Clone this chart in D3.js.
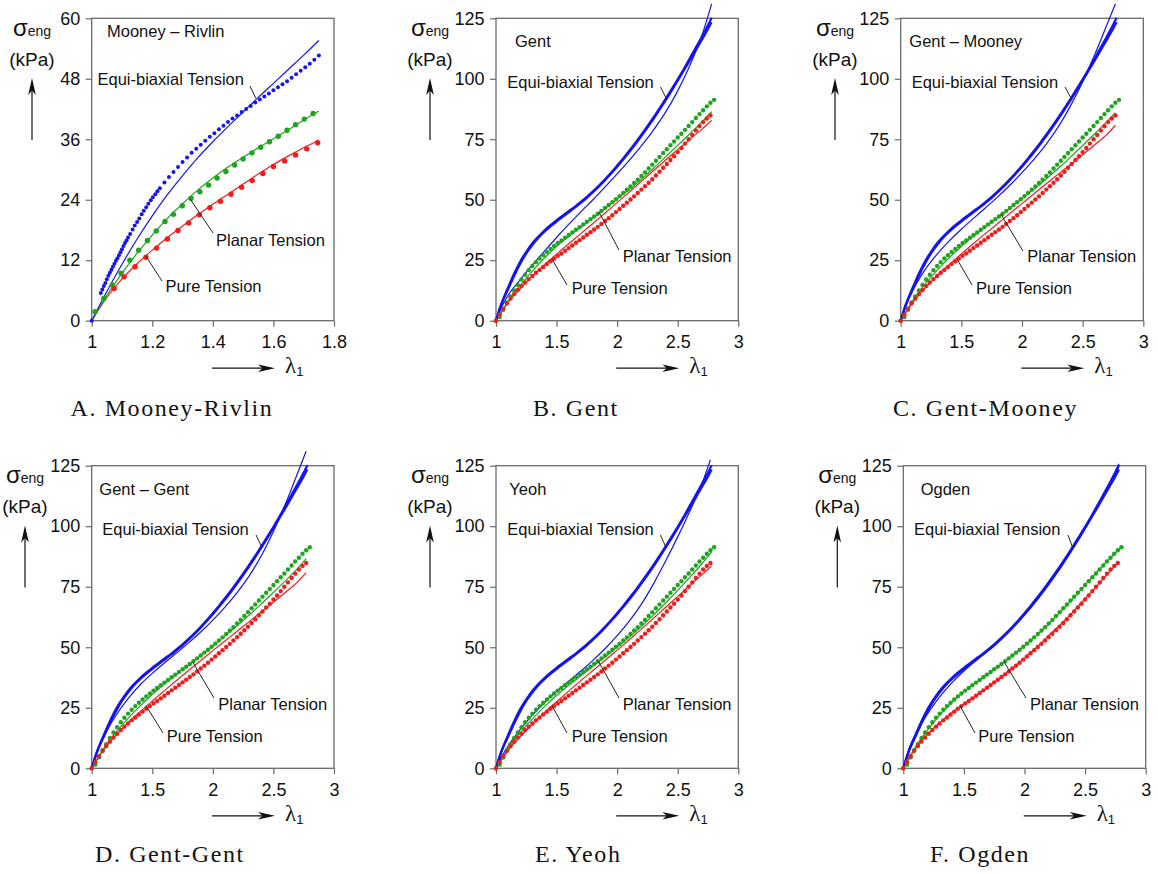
<!DOCTYPE html>
<html>
<head>
<meta charset="utf-8">
<script src="https://cdn.jsdelivr.net/npm/d3@7"></script>
<style>
  body { margin: 0; background: #fff; }
  svg text { fill: #111; }
</style>
</head>
<body>
<svg id="fig" width="1158" height="874"></svg>
<script>
// ---------- tick labels ----------
const xTicksMR = [1, 1.2, 1.4, 1.6, 1.8];
const yTicksMR = [0, 12, 24, 36, 48, 60];
const xTicksWide = [1, 1.5, 2, 2.5, 3];
const yTicksWide = [0, 25, 50, 75, 100, 125];

// ---------- Mooney-Rivlin test set (stretch λ1, stress kPa) ----------
const mrEquiData = [[1.0,0],[1.03,5.5],[1.035,6.2],[1.04,6.9],[1.045,7.5],[1.05,8.2],[1.055,8.9],[1.06,9.5],[1.065,10.1],
  [1.07,10.7],[1.075,11.3],[1.08,11.9],[1.085,12.4],[1.09,13.0],[1.095,13.6],[1.1,14.2],[1.105,14.8],[1.11,15.4],
  [1.115,15.9],[1.12,16.5],[1.127,17.2],[1.135,18.1],[1.142,18.9],[1.15,19.6],[1.157,20.3],[1.165,21.1],[1.172,21.8],
  [1.18,22.5],[1.187,23.2],[1.195,23.9],[1.202,24.5],[1.21,25.1],[1.217,25.7],[1.225,26.3],[1.24,27.4],[1.255,28.5],[1.27,29.5],
  [1.285,30.5],[1.3,31.5],[1.315,32.4],[1.33,33.3],[1.345,34.1],[1.36,34.9],[1.375,35.7],[1.39,36.5],[1.405,37.2],
  [1.42,38.0],[1.435,38.7],[1.45,39.4],[1.465,40.1],[1.48,40.7],[1.495,41.4],[1.51,42.0],[1.525,42.6],[1.54,43.3],
  [1.555,43.9],[1.57,44.5],[1.585,45.1],[1.6,45.7],[1.615,46.3],[1.63,46.9],[1.645,47.5],[1.66,48.2],[1.675,48.9],
  [1.69,49.6],[1.705,50.3],[1.72,51.0],[1.735,51.8],[1.75,52.6]];
const mrPlanarData = [[1.011,1.8],[1.04,4.4],[1.068,7.1],[1.097,9.4],[1.126,12],[1.155,14],[1.184,15.9],[1.213,17.8],
  [1.242,19.7],[1.27,21.1],[1.299,22.8],[1.328,24.3],[1.357,25.6],[1.386,26.9],[1.414,28.3],[1.443,29.6],[1.472,30.9],
  [1.5,32.1],[1.529,33.3],[1.558,34.4],[1.587,35.5],[1.616,36.6],[1.645,37.8],[1.673,38.9],[1.702,40],[1.731,41.1]];
const mrPureData = [[1.074,6.4],[1.107,8.7],[1.143,10.7],[1.179,12.6],[1.214,14.4],[1.25,16.2],[1.285,17.9],[1.32,19.4],
  [1.355,21],[1.39,22.4],[1.425,23.7],[1.46,25.1],[1.495,26.5],[1.53,27.8],[1.565,29.2],[1.6,30.6],[1.637,31.7],
  [1.673,32.9],[1.71,34.1],[1.746,35.3]];

const mrEquiFit = [[1,0],[1.05,5.8],[1.1,11.2],[1.15,16.2],[1.2,20.8],[1.25,25],[1.3,28.8],[1.35,32.3],[1.4,35.5],
  [1.45,38.5],[1.5,41.4],[1.55,44.3],[1.6,47.1],[1.65,49.9],[1.7,52.7],[1.75,55.6]];
const mrPlanarFit = [[1,0],[1.05,5],[1.1,9.4],[1.15,13.4],[1.2,17],[1.25,20.3],[1.3,23.2],[1.35,25.9],[1.4,28.3],
  [1.45,30.5],[1.5,32.4],[1.55,34.3],[1.6,36.1],[1.65,37.9],[1.7,39.8],[1.75,41.6]];
const mrPureFit = [[1,0],[1.05,4.6],[1.1,8.3],[1.15,11.3],[1.2,14],[1.25,16.5],[1.3,18.8],[1.35,21],[1.4,23.1],
  [1.45,25.1],[1.5,27.1],[1.55,29.1],[1.6,31],[1.65,32.7],[1.7,34.3],[1.75,35.8]];

// ---------- large-stretch test set, shared by the other five models ----------
const equiStrandA = [[1,0],[1.02,3.5],[1.04,6.5],[1.06,9],[1.08,11.5],[1.1,13.8],[1.15,19.5],[1.2,24.5],[1.25,28.5],
  [1.3,32],[1.35,34.8],[1.4,37.3],[1.45,39.5],[1.5,41.5],[1.55,43.4],[1.6,45.3],[1.65,47.1],[1.7,49.1],[1.75,51.2],
  [1.8,53.5],[1.85,55.9],[1.9,58.5],[1.95,61.2],[2.0,64.1],[2.05,67.1],[2.1,70.3],[2.15,73.5],[2.2,76.9],[2.25,80.4],
  [2.3,84],[2.35,87.8],[2.4,91.7],[2.45,95.7],[2.5,99.8],[2.55,104],[2.6,108.5],[2.65,113],[2.7,117.5],[2.75,122.2],[2.78,125.2]];
const equiStrandB = [[1,0],[1.03,4.5],[1.05,7.5],[1.1,13],[1.15,18.5],[1.2,23.5],[1.25,27.8],[1.3,31.3],[1.35,34.3],
  [1.4,36.8],[1.45,39],[1.5,41],[1.55,42.9],[1.6,44.8],[1.65,46.7],[1.7,48.7],[1.75,50.8],[1.8,53.1],[1.85,55.5],
  [1.9,58.1],[1.95,60.8],[2.0,63.6],[2.05,66.6],[2.1,69.7],[2.15,72.9],[2.2,76.3],[2.25,79.8],[2.3,83.4],[2.35,87.2],
  [2.4,91.1],[2.45,95.1],[2.5,99.2],[2.55,103.4],[2.6,107.6],[2.65,111.9],[2.7,116.2],[2.75,120.6],[2.78,123.4]];
const planarData = [[1.00,0],[1.03,1.5],[1.06,4.5],[1.09,7.5],[1.12,10],[1.15,12.5],[1.18,14.8],[1.21,17],[1.24,19],
  [1.27,20.9],[1.30,22.6],[1.33,24.2],[1.36,25.7],[1.39,27.1],[1.42,28.4],[1.45,29.7],[1.48,30.9],[1.51,32.1],
  [1.54,33.2],[1.57,34.3],[1.60,35.4],[1.63,36.5],[1.66,37.6],[1.69,38.7],[1.72,39.8],[1.75,40.9],[1.78,42],
  [1.81,43.1],[1.84,44.2],[1.87,45.4],[1.90,46.6],[1.93,47.8],[1.96,49],[1.99,50.2],[2.02,51.5],[2.05,52.8],
  [2.08,54.1],[2.11,55.5],[2.14,56.9],[2.17,58.3],[2.20,59.8],[2.23,61.3],[2.26,62.9],[2.29,64.5],[2.32,66.1],
  [2.35,67.7],[2.38,69.3],[2.41,70.9],[2.44,72.5],[2.47,74.1],[2.50,75.7],[2.53,77.3],[2.56,78.9],[2.59,80.5],
  [2.62,82.1],[2.65,83.8],[2.68,85.4],[2.71,87],[2.74,88.6],[2.77,90.1],[2.80,91.3]];
const pureData = [[1.00,0],[1.03,2.5],[1.06,5],[1.09,7.2],[1.12,9.2],[1.15,11],[1.18,12.7],[1.21,14.3],[1.24,15.8],
  [1.27,17.2],[1.30,18.5],[1.33,19.8],[1.36,21],[1.39,22.2],[1.42,23.4],[1.45,24.6],[1.48,25.7],[1.51,26.8],
  [1.54,27.8],[1.57,28.9],[1.60,30],[1.63,31.1],[1.66,32.2],[1.69,33.3],[1.72,34.4],[1.75,35.5],[1.78,36.6],
  [1.81,37.7],[1.84,38.8],[1.87,40],[1.90,41.2],[1.93,42.4],[1.96,43.6],[1.99,44.9],[2.02,46.2],[2.05,47.5],
  [2.08,48.8],[2.11,50.1],[2.14,51.4],[2.17,52.8],[2.20,54.2],[2.23,55.6],[2.26,57],[2.29,58.5],[2.32,60],
  [2.35,61.6],[2.38,63.2],[2.41,64.8],[2.44,66.4],[2.47,68],[2.50,69.7],[2.53,71.4],[2.56,73.2],[2.59,75],
  [2.62,76.8],[2.65,78.6],[2.68,80.4],[2.71,82.1],[2.74,83.6],[2.77,84.8]];

// ---------- model fits ----------
const gentEquiFit = [[1,0],[1.05,6],[1.1,10.5],[1.2,17],[1.3,23],[1.4,28.8],[1.5,34.4],[1.6,39.8],[1.7,45],[1.8,50],
  [1.9,55.3],[2.0,60.7],[2.1,66.3],[2.2,72.3],[2.3,78.8],[2.4,86.2],[2.5,95],[2.6,105.5],[2.7,118],[2.78,131]];
const gentPlanarFit = [[1,0],[1.1,8],[1.2,14.5],[1.3,20.5],[1.4,25.9],[1.5,30.8],[1.6,34.8],[1.7,38.6],[1.8,42.4],
  [1.9,46.3],[2.0,50.3],[2.1,54.2],[2.2,58.5],[2.3,63],[2.4,67.7],[2.5,72.5],[2.6,77.3],[2.7,82.2],[2.78,86.4]];
const gentPureFit = [[1,0],[1.1,7.5],[1.2,13.2],[1.3,18.4],[1.4,23.1],[1.5,27.5],[1.6,31.8],[1.7,36],[1.8,40.2],
  [1.9,44.5],[2.0,48.8],[2.1,53.2],[2.2,57.6],[2.3,62],[2.4,66.4],[2.5,70.7],[2.6,75],[2.7,79.2],[2.78,82.8]];

const gmEquiFit = [[1,0],[1.05,7],[1.1,12.5],[1.2,21],[1.3,27.5],[1.4,33],[1.5,37.8],[1.6,42.3],[1.7,46.7],[1.8,51.2],
  [1.9,56],[2.0,61.2],[2.1,66.8],[2.2,73],[2.3,80.2],[2.4,88.8],[2.5,98.8],[2.6,110],[2.7,122.3],[2.77,131]];
const gmPlanarFit = [[1,0],[1.1,8.3],[1.2,15],[1.3,20.8],[1.4,26],[1.5,30.7],[1.6,34.9],[1.7,38.8],[1.8,42.6],
  [1.9,46.5],[2.0,50.4],[2.1,54.4],[2.2,58.6],[2.3,63],[2.4,67.6],[2.5,72.4],[2.6,77.3],[2.7,82.3],[2.77,86]];
const gmPureFit = [[1,0],[1.1,7.5],[1.2,13.5],[1.3,18.6],[1.4,23.2],[1.5,27.6],[1.6,31.9],[1.7,36.1],[1.8,40.2],
  [1.9,44.3],[2.0,48.4],[2.1,52.5],[2.2,56.6],[2.3,60.6],[2.4,64.6],[2.5,68.6],[2.6,72.7],[2.7,77],[2.77,80.8]];

const ggEquiFit = [[1,0],[1.05,7.5],[1.1,13],[1.2,21.8],[1.3,28.8],[1.4,34.5],[1.5,39.2],[1.6,43.5],[1.7,47.6],[1.8,51.8],
  [1.9,56.3],[2.0,61.2],[2.1,66.6],[2.2,72.6],[2.3,79.5],[2.4,87.8],[2.5,97.8],[2.6,109.3],[2.7,122],[2.77,131]];
const ggPlanarFit = [[1,0],[1.1,8.2],[1.2,14.8],[1.3,20.6],[1.4,25.8],[1.5,30.5],[1.6,34.8],[1.7,38.8],[1.8,42.7],
  [1.9,46.6],[2.0,50.6],[2.1,54.7],[2.2,58.9],[2.3,63.3],[2.4,67.9],[2.5,72.6],[2.6,77.5],[2.7,82.6],[2.77,86.6]];
const ggPureFit = [[1,0],[1.1,7.6],[1.2,13.6],[1.3,18.8],[1.4,23.4],[1.5,27.8],[1.6,32.1],[1.7,36.3],[1.8,40.4],
  [1.9,44.5],[2.0,48.6],[2.1,52.6],[2.2,56.6],[2.3,60.6],[2.4,64.6],[2.5,68.6],[2.6,72.7],[2.7,77],[2.77,80.8]];

const yeohEquiFit = [[1,0],[1.05,5],[1.1,9.2],[1.2,16],[1.3,22],[1.4,27.2],[1.5,31.8],[1.6,36],[1.7,40.2],[1.8,44.6],
  [1.9,49.4],[2.0,54.8],[2.1,60.8],[2.2,67.8],[2.3,76.2],[2.4,85.6],[2.5,95.6],[2.6,106.2],[2.7,117.6],[2.77,127.5]];
const yeohPlanarFit = [[1,0],[1.1,8],[1.2,14.6],[1.3,20.4],[1.4,25.5],[1.5,30.1],[1.6,34.3],[1.7,38.2],[1.8,42.1],
  [1.9,46],[2.0,50],[2.1,54.2],[2.2,58.6],[2.3,63.3],[2.4,68.3],[2.5,73.5],[2.6,78.9],[2.7,84.5],[2.78,89.4]];
const yeohPureFit = [[1,0],[1.1,7.2],[1.2,13],[1.3,18.2],[1.4,23],[1.5,27.5],[1.6,31.9],[1.7,36.2],[1.8,40.4],
  [1.9,44.6],[2.0,48.8],[2.1,53.1],[2.2,57.5],[2.3,62],[2.4,66.5],[2.5,71],[2.6,75.5],[2.7,80],[2.78,83.6]];

const ogdenEquiFit = [[1,0],[1.05,8.5],[1.1,14],[1.2,22.5],[1.3,29.5],[1.4,35.3],[1.5,40.2],[1.6,44.5],[1.7,48.6],
  [1.8,52.9],[1.9,57.8],[2.0,63.3],[2.1,69.3],[2.2,75.9],[2.3,83],[2.4,90.7],[2.5,99],[2.6,108],[2.7,117.8],[2.78,125.8]];
const ogdenPlanarFit = [[1,0],[1.1,8.8],[1.2,15.8],[1.3,22],[1.4,27.2],[1.5,31.6],[1.6,35.4],[1.7,39],[1.8,42.6],
  [1.9,46.5],[2.0,50.6],[2.1,54.9],[2.2,59.6],[2.3,64.7],[2.4,70.1],[2.5,75.7],[2.6,81.2],[2.7,86.5],[2.8,91.3]];
const ogdenPureFit = [[1,0],[1.1,8],[1.2,14],[1.3,18.8],[1.4,22.9],[1.5,26.6],[1.6,30],[1.7,33.7],[1.8,37.4],
  [1.9,41.3],[2.0,45.5],[2.1,50],[2.2,54.9],[2.3,59.5],[2.4,64.6],[2.5,70],[2.6,75.5],[2.7,81],[2.77,84.8]];

// ---------- styling ----------
const COLOR = { equi: "#1414f0", planar: "#1ea41e", pure: "#f21c1c" };
const FRAME = "#6a6a6a";
const SANS = '"Liberation Sans", Arial, Helvetica, sans-serif';
const SERIF = '"Liberation Serif", "Times New Roman", serif';

// ---------- panel layout ----------
const panels = [
  { left: 91.7, right: 334, top: 18.3, bottom: 320.7, xDomain: [1, 1.8], yDomain: [0, 60],
    xTicks: xTicksMR, yTicks: yTicksMR, axisX: 32, caption: "A. Mooney-Rivlin", capX: 70.5, capY: 416,
    title: "Mooney \u2013 Rivlin", titleX: 107, titleY: 37.3,
    fits: { equi: mrEquiFit, planar: mrPlanarFit, pure: mrPureFit },
    equiDots: mrEquiData, planarDots: mrPlanarData, pureDots: mrPureData, dotR: 2.7, equiR: 2.0,
    notes: [
      { text: "Equi-biaxial Tension", x: 97.5, y: 85, from: [250, 86], to: [1.542, 44.1] },
      { text: "Planar Tension", x: 216, y: 246, from: [213, 233], to: [1.3245, 24.2] },
      { text: "Pure Tension", x: 165.5, y: 291.5, from: [162, 281], to: [1.179, 12.8] } ] },
  { left: 496, right: 738.3, top: 18.3, bottom: 320.7, xDomain: [1, 3], yDomain: [0, 125],
    xTicks: xTicksWide, yTicks: yTicksWide, axisX: 430, caption: "B. Gent", capX: 533, capY: 416,
    title: "Gent", titleX: 515, titleY: 46.7,
    fits: { equi: gentEquiFit, planar: gentPlanarFit, pure: gentPureFit },
    notes: [
      { text: "Equi-biaxial Tension", x: 507.3, y: 87.5, from: [660.5, 87], to: [2.411, 91.3] },
      { text: "Planar Tension", x: 622.7, y: 262, from: [619, 250], to: [1.85, 45] },
      { text: "Pure Tension", x: 571.7, y: 294, from: [567, 285], to: [1.462, 25.5] } ] },
  { left: 900.7, right: 1143.3, top: 18.3, bottom: 320.7, xDomain: [1, 3], yDomain: [0, 125],
    xTicks: xTicksWide, yTicks: yTicksWide, axisX: 835, caption: "C. Gent-Mooney", capX: 893, capY: 416,
    title: "Gent \u2013 Mooney", titleX: 909.3, titleY: 46.7,
    fits: { equi: gmEquiFit, planar: gmPlanarFit, pure: gmPureFit },
    notes: [
      { text: "Equi-biaxial Tension", x: 911.7, y: 87.5, from: [1065, 87], to: [2.412, 91.3] },
      { text: "Planar Tension", x: 1027.3, y: 262, from: [1023, 251], to: [1.825, 44.1] },
      { text: "Pure Tension", x: 976, y: 294, from: [972, 285], to: [1.464, 25.5] } ] },
  { left: 91.7, right: 334, top: 465.7, bottom: 768.3, xDomain: [1, 3], yDomain: [0, 125],
    xTicks: xTicksWide, yTicks: yTicksWide, axisX: 25, caption: "D. Gent-Gent", capX: 95, capY: 862,
    title: "Gent \u2013 Gent", titleX: 99.3, titleY: 495,
    fits: { equi: ggEquiFit, planar: ggPlanarFit, pure: ggPureFit },
    notes: [
      { text: "Equi-biaxial Tension", x: 102.3, y: 535, from: [256, 535], to: [2.406, 91.2] },
      { text: "Planar Tension", x: 218.3, y: 709.5, from: [214, 698], to: [1.836, 43.7] },
      { text: "Pure Tension", x: 166.7, y: 741.5, from: [163, 733], to: [1.448, 25.9] } ] },
  { left: 496, right: 738.3, top: 465.7, bottom: 768.3, xDomain: [1, 3], yDomain: [0, 125],
    xTicks: xTicksWide, yTicks: yTicksWide, axisX: 430, caption: "E. Yeoh", capX: 535, capY: 862,
    title: "Yeoh", titleX: 509.3, titleY: 495,
    fits: { equi: yeohEquiFit, planar: yeohPlanarFit, pure: yeohPureFit },
    notes: [
      { text: "Equi-biaxial Tension", x: 507.3, y: 535, from: [660.5, 535], to: [2.403, 91.2] },
      { text: "Planar Tension", x: 622.7, y: 709.5, from: [619, 698], to: [1.842, 44.5] },
      { text: "Pure Tension", x: 571.7, y: 741.5, from: [567, 733], to: [1.462, 25.9] } ] },
  { left: 903.3, right: 1145.7, top: 465.7, bottom: 768.3, xDomain: [1, 3], yDomain: [0, 125],
    xTicks: xTicksWide, yTicks: yTicksWide, axisX: 837.3, caption: "F. Ogden", capX: 930, capY: 862,
    title: "Ogden", titleX: 920.7, titleY: 495,
    fits: { equi: ogdenEquiFit, planar: ogdenPlanarFit, pure: ogdenPureFit },
    notes: [
      { text: "Equi-biaxial Tension", x: 914, y: 535, from: [1068, 535], to: [2.40, 90.8] },
      { text: "Planar Tension", x: 1030, y: 709.5, from: [1026, 698], to: [1.831, 44] },
      { text: "Pure Tension", x: 978.3, y: 741.5, from: [975, 733], to: [1.467, 25.9] } ] }
];

const svg = d3.select("#fig");
svg.append("rect").attr("width", 1158).attr("height", 874).attr("fill", "#fff");

// slim arrowhead pointing along +x, tip at origin
const HEAD = "M0,0 L-17,-3.8 L-12.5,0 L-17,3.8 Z";

function drawPanel(p) {
  const x = d3.scaleLinear().domain(p.xDomain).range([p.left, p.right]);
  const y = d3.scaleLinear().domain(p.yDomain).range([p.bottom, p.top]);
  const g = svg.append("g").style("font-family", SANS);
  const line = d3.line().x(d => x(d[0])).y(d => y(d[1])).curve(d3.curveMonotoneX);

  // axes (outer ticks only; the frame is drawn separately)
  const ax = g.append("g").attr("transform", `translate(0,${p.bottom})`)
    .call(d3.axisBottom(x).tickValues(p.xTicks).tickFormat(d => String(d))
      .tickSizeInner(6).tickSizeOuter(0).tickPadding(8.5));
  const ay = g.append("g").attr("transform", `translate(${p.left},0)`)
    .call(d3.axisLeft(y).tickValues(p.yTicks).tickFormat(d => String(d))
      .tickSizeInner(6).tickSizeOuter(0).tickPadding(5.5));
  [ax, ay].forEach(a => {
    a.select(".domain").remove();
    a.attr("font-size", 18).style("font-family", SANS);
    a.selectAll(".tick line").attr("stroke", FRAME).attr("stroke-width", 1.2);
    a.selectAll(".tick text").attr("fill", "#111");
  });

  g.append("rect")
    .attr("x", p.left).attr("y", p.top)
    .attr("width", p.right - p.left).attr("height", p.bottom - p.top)
    .attr("fill", "none").attr("stroke", FRAME).attr("stroke-width", 1.3);

  // model fits (thin lines)
  ["pure", "planar", "equi"].forEach(k => {
    g.append("path").datum(p.fits[k]).attr("d", line)
      .attr("fill", "none").attr("stroke", COLOR[k]).attr("stroke-width", 1.2);
  });

  // experimental data
  if (p.equiDots) {
    g.append("g").selectAll("circle").data(p.equiDots).join("circle")
      .attr("cx", d => x(d[0])).attr("cy", d => y(d[1])).attr("r", p.equiR).attr("fill", COLOR.equi);
    g.append("g").selectAll("circle").data(p.planarDots).join("circle")
      .attr("cx", d => x(d[0])).attr("cy", d => y(d[1])).attr("r", p.dotR).attr("fill", COLOR.planar);
    g.append("g").selectAll("circle").data(p.pureDots).join("circle")
      .attr("cx", d => x(d[0])).attr("cy", d => y(d[1])).attr("r", p.dotR).attr("fill", COLOR.pure);
  } else {
    [equiStrandA, equiStrandB].forEach(s => {
      g.append("path").datum(s).attr("d", line)
        .attr("fill", "none").attr("stroke", COLOR.equi).attr("stroke-width", 2.2);
    });
    g.append("g").selectAll("circle").data(planarData).join("circle")
      .attr("cx", d => x(d[0])).attr("cy", d => y(d[1])).attr("r", 2.2).attr("fill", COLOR.planar);
    g.append("g").selectAll("circle").data(pureData).join("circle")
      .attr("cx", d => x(d[0])).attr("cy", d => y(d[1])).attr("r", 2.2).attr("fill", COLOR.pure);
  }

  // curve labels with leader lines
  p.notes.forEach(n => {
    g.append("line")
      .attr("x1", n.from[0]).attr("y1", n.from[1])
      .attr("x2", x(n.to[0])).attr("y2", y(n.to[1]))
      .attr("stroke", "#222").attr("stroke-width", 1);
    g.append("text").attr("x", n.x).attr("y", n.y).attr("font-size", 16.5).text(n.text);
  });

  // model name inside the frame
  g.append("text").attr("x", p.titleX).attr("y", p.titleY).attr("font-size", 16.5).text(p.title);

  // vertical axis label: σ_eng (kPa) with upward arrow
  const sig = g.append("text").attr("x", p.axisX).attr("y", p.top + 17.7)
    .attr("text-anchor", "middle");
  sig.append("tspan").attr("font-size", 24).text("\u03c3");
  sig.append("tspan").attr("font-size", 14).text("eng");
  g.append("text").attr("x", p.axisX).attr("y", p.top + 47.4)
    .attr("text-anchor", "middle").attr("font-size", 19).text("(kPa)");
  g.append("line").attr("x1", p.axisX).attr("x2", p.axisX)
    .attr("y1", p.top + 121.7).attr("y2", p.top + 66)
    .attr("stroke", "#111").attr("stroke-width", 1.2);
  g.append("path").attr("d", HEAD).attr("fill", "#111")
    .attr("transform", `translate(${p.axisX},${p.top + 59.7}) rotate(-90)`);

  // horizontal axis label: arrow then λ1
  const ly = p.bottom + 47.5;
  g.append("line").attr("x1", p.right - 122).attr("x2", p.right - 66)
    .attr("y1", ly).attr("y2", ly).attr("stroke", "#111").attr("stroke-width", 1.2);
  g.append("path").attr("d", HEAD).attr("fill", "#111")
    .attr("transform", `translate(${p.right - 59},${ly})`);
  const lam = g.append("text").attr("x", p.right - 49).attr("y", p.bottom + 52.3)
    .style("font-family", SERIF);
  lam.append("tspan").attr("font-size", 23).text("\u03bb");
  lam.append("tspan").attr("font-size", 13).attr("dy", 3)
    .style("font-family", SANS).text("1");

  // caption below the panel
  g.append("text").attr("x", p.capX).attr("y", p.capY)
    .style("font-family", SERIF)
    .attr("font-size", 24).attr("letter-spacing", 1.6).text(p.caption);
}

panels.forEach(drawPanel);
</script>
</body>
</html>
